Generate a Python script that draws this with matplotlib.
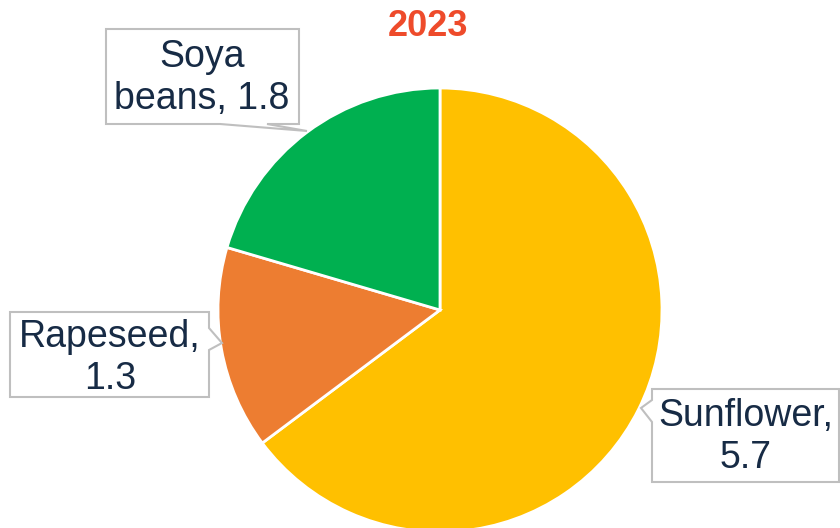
import matplotlib
matplotlib.use("Agg")
import matplotlib.pyplot as plt
from matplotlib.patches import Polygon

categories = ["Sunflower", "Rapeseed", "Soya\nbeans"]
values = [5.7, 1.3, 1.8]
colors = ["#FFC000", "#ED7D31", "#00B050"]
title = "2023"

W, H = 840, 528
fig = plt.figure(figsize=(W / 100, H / 100), dpi=100)
ax = fig.add_axes([0, 0, 1, 1])

cx, cy, r = 440, H - 310, 222
ax.pie(values, colors=colors, startangle=90, counterclock=False,
       center=(cx, cy), radius=r, frame=True,
       wedgeprops=dict(edgecolor="white", linewidth=2))
ax.set_xlim(0, W)
ax.set_ylim(0, H)
ax.set_aspect("equal")
ax.axis("off")

def Y(y):
    return H - y

# callout polygons in pixel coords (y down)
callouts = [
    # Soya
    [(106, 29), (299, 29), (299, 124), (267, 124), (307, 131), (220, 124), (106, 124)],
    # Rapeseed
    [(10, 312), (209, 312), (209, 328), (222, 343), (209, 350), (209, 397), (10, 397)],
    # Sunflower
    [(652, 389), (839, 389), (839, 482), (652, 482), (652, 422), (641, 408), (652, 400)],
]
for pts in callouts:
    ax.add_patch(Polygon([(x, Y(y)) for x, y in pts], closed=True,
                         facecolor="white", edgecolor="#BFBFBF", linewidth=1.5, zorder=5))

labels = [f"{c}, {v}" if "\n" in c else f"{c},\n{v}" for c, v in zip(categories, values)]
label_pos = [(746, 437), (110, 358), (202, 78)]
txtc = "#172B45"
for (x, y), lab in zip(label_pos, labels):
    ax.text(x, Y(y), lab, ha="center", va="center", multialignment="center",
            fontsize=27, color=txtc, family="Liberation Sans", linespacing=1.22, zorder=6)

ax.text(428, Y(26), title, ha="center", va="center", fontsize=26, fontweight="bold",
        color="#EE4B2B", family="Liberation Sans")

fig.savefig("out.png", dpi=100)
